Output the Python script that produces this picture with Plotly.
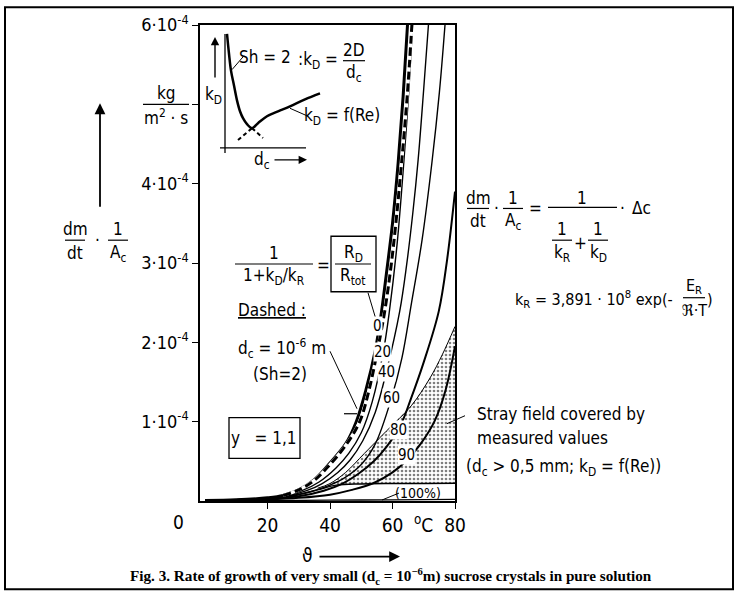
import plotly.graph_objects as go

# ---------------- data (T in °C, rate in 1e-4 kg/(m^2 s)) ----------------
c0_T = [0, 10, 20, 25, 30, 35, 40, 45, 48.4, 51.5, 54.5, 56.5, 58, 60, 61.8, 63.4, 64.8]
c0_v = [0.005, 0.015, 0.04, 0.07, 0.14, 0.27, 0.48, 0.72, 1.0, 1.4, 1.9, 2.39, 2.85, 3.5, 4.26, 5.1, 6.0]

cd_T = [25, 30, 35, 40, 45, 49.5, 52.5, 55.2, 57.5, 59.5, 61.2, 62.9, 64.7, 66.2]
cd_v = [0.07, 0.14, 0.26, 0.46, 0.7, 1.0, 1.4, 1.9, 2.39, 2.95, 3.55, 4.26, 5.1, 6.0]

c20_T = [0, 10, 20, 26, 31, 36.5, 42, 46, 50, 53.5, 57.1, 59.0, 61.5, 63.6, 65.1, 66.4]
c20_v = [0.005, 0.015, 0.04, 0.07, 0.13, 0.24, 0.42, 0.6, 0.86, 1.25, 1.89, 2.39, 3.25, 4.26, 5.1, 6.0]

c40_T = [0, 10, 20, 27, 32.5, 37.5, 42.5, 46.5, 50.5, 54.5, 58.1, 62.3, 64.5, 66.5, 68.2, 70.0, 71.5]
c40_v = [0.005, 0.015, 0.04, 0.07, 0.13, 0.22, 0.36, 0.52, 0.76, 1.12, 1.64, 2.39, 2.97, 3.63, 4.3, 5.2, 6.0]

c60_T = [0, 10, 20, 28, 34, 40, 45, 50, 54.5, 59.7, 63, 66.1, 69.5, 72.6, 75, 76.8]
c60_v = [0.005, 0.015, 0.035, 0.07, 0.12, 0.2, 0.3, 0.46, 0.72, 1.3, 1.8, 2.5, 3.3, 4.26, 5.15, 6.0]

c80_T = [0, 10, 20, 30, 38, 44, 49, 54, 58, 62.3, 66, 70, 74.8, 77.5, 80]
c80_v = [0.005, 0.012, 0.03, 0.06, 0.13, 0.22, 0.34, 0.5, 0.68, 0.93, 1.3, 1.75, 2.39, 3.05, 3.9]

c90_T = [0, 10, 20, 30, 40, 47, 54.2, 60, 64.5, 69, 73.5, 77, 80]
c90_v = [0.005, 0.01, 0.02, 0.04, 0.08, 0.14, 0.23, 0.36, 0.51, 0.72, 1.01, 1.4, 1.95]

c100_T = [0, 20, 40, 60, 80]
c100_v = [0.003, 0.006, 0.01, 0.015, 0.02]

# stray field (measured values) boundaries
su_T = [36, 40, 45, 51, 58, 66, 72, 76, 80]
su_v = [0.16, 0.22, 0.36, 0.6, 0.88, 1.2, 1.55, 1.85, 2.2]
sl_T = [24, 30, 36, 42, 50, 60, 70, 80]
sl_v = [0.04, 0.08, 0.14, 0.2, 0.215, 0.22, 0.222, 0.225]

# inset sketch (arbitrary units): k_D vs d_c
in_d = [7, 9, 11, 14, 17, 20, 23, 27, 32, 38, 47, 58, 70, 85, 100]
in_k = [120, 100, 83, 68, 53, 42, 35, 29, 25, 30, 37, 42, 47, 54, 60]
in_dash1_d = [18, 32]
in_dash1_k = [13, 25]
in_dash2_d = [32, 43]
in_dash2_k = [25, 15]

x_ticks = [20, 40, 60, 80]
x_ticktext = ["20", "40", "60", "80"]
y_ticks = [1, 2, 3, 4, 5, 6]
y_ticktext = ["1·10<sup>-4</sup>", "2·10<sup>-4</sup>", "3·10<sup>-4</sup>",
              "4·10<sup>-4</sup>", "", "6·10<sup>-4</sup>"]

# ---------------- layout helpers ----------------
W, H = 737, 593
L0, R0, T0, B0 = 200, 455, 21, 501
FONT = "DejaVu Sans Condensed, Liberation Sans Narrow, Roboto Condensed, DejaVu Sans, sans-serif"
SERIF = "Liberation Serif, Times New Roman, serif"


def PX(x):
    return (x - L0) / (R0 - L0)


def PY(y):
    return (B0 - y) / (B0 - T0)


ann = []
shp = []


def T(x, y, text, size=16, anchor="center", family=FONT, **kw):
    ann.append(dict(x=PX(x), y=PY(y), xref="paper", yref="paper", text=text,
                    showarrow=False, xanchor=anchor, yanchor="middle",
                    font=dict(family=family, size=size, color="black"), **kw))


def Ln(x0, y0, x1, y1, w=1.3, dash=None):
    d = dict(type="line", xref="paper", yref="paper", x0=PX(x0), y0=PY(y0),
             x1=PX(x1), y1=PY(y1), line=dict(color="black", width=w))
    if dash:
        d["line"]["dash"] = dash
    shp.append(d)


def Box(x0, y0, x1, y1, w=1.3):
    shp.append(dict(type="rect", xref="paper", yref="paper", x0=PX(x0), y0=PY(y0),
                    x1=PX(x1), y1=PY(y1), line=dict(color="black", width=w)))


def Arrow(xh, yh, xt, yt, w=1.8):
    ann.append(dict(x=PX(xh), y=PY(yh), xref="paper", yref="paper", text="",
                    showarrow=True, ax=xt - xh, ay=yt - yh, arrowhead=2,
                    arrowsize=1.2, arrowwidth=w, arrowcolor="black"))


def Frac(xc, yl, num, den, hw, size=16, gap=11):
    T(xc, yl - gap, num, size)
    T(xc, yl + gap + 2, den, size)
    Ln(xc - hw, yl, xc + hw, yl, 1.2)


fig = go.Figure()

# stray field stipple
poly_T = su_T + [80] + [t for t in reversed(sl_T) if t >= 42]
poly_v = su_v + [sl_v[-1]] + [v for t, v in zip(reversed(sl_T), reversed(sl_v)) if t >= 42]
fig.add_trace(go.Scatter(x=poly_T, y=poly_v, mode="lines", fill="toself",
                         fillcolor="white", line=dict(width=0),
                         fillpattern=dict(shape=".", size=4, solidity=0.35,
                                          fgcolor="black", bgcolor="white"),
                         hoverinfo="skip", showlegend=False))
fig.add_trace(go.Scatter(x=su_T, y=su_v, mode="lines", line=dict(color="black", width=1),
                         line_shape="spline", showlegend=False))
fig.add_trace(go.Scatter(x=sl_T, y=sl_v, mode="lines", line=dict(color="black", width=1.5),
                         line_shape="spline", showlegend=False))

curves = [
    (c100_T, c100_v, 1.3),
    (c90_T, c90_v, 2.0),
    (c80_T, c80_v, 2.0),
    (c60_T, c60_v, 1.4),
    (c40_T, c40_v, 1.4),
    (c20_T, c20_v, 1.4),
    (c0_T, c0_v, 3.0),
]
for tx, vy, w in curves:
    fig.add_trace(go.Scatter(x=tx, y=vy, mode="lines", line=dict(color="black", width=w),
                             line_shape="spline", showlegend=False))
# dashed curve: white underlay + black dashes
fig.add_trace(go.Scatter(x=cd_T, y=cd_v, mode="lines", line=dict(color="white", width=3.2),
                         line_shape="spline", showlegend=False))
fig.add_trace(go.Scatter(x=cd_T, y=cd_v, mode="lines",
                         line=dict(color="black", width=3, dash="8px,4px"),
                         line_shape="spline", showlegend=False))

# inset sketch
fig.add_trace(go.Scatter(x=in_d, y=in_k, mode="lines", line=dict(color="black", width=2.5),
                         line_shape="spline", xaxis="x2", yaxis="y2", showlegend=False))
fig.add_trace(go.Scatter(x=in_dash1_d, y=in_dash1_k, mode="lines",
                         line=dict(color="black", width=2, dash="4px,3px"),
                         xaxis="x2", yaxis="y2", showlegend=False))
fig.add_trace(go.Scatter(x=in_dash2_d, y=in_dash2_k, mode="lines",
                         line=dict(color="black", width=2, dash="4px,3px"),
                         xaxis="x2", yaxis="y2", showlegend=False))

# ---------------- annotations ----------------
# outer frame
shp.append(dict(type="rect", xref="paper", yref="paper", x0=PX(5), y0=PY(3), x1=PX(733),
                y1=PY(590), line=dict(color="black", width=2)))

# y axis units and title
Frac(166, 101, "kg", "m<sup>2</sup> · s", 23, size=17)
Frac(75, 238, "dm", "dt", 10, size=17)
T(97, 238, "·", 17)
Frac(118, 238, "1", "A<sub>c</sub>", 10, size=17)
Arrow(100, 100, 100, 205)
T(178, 522, "0", 19)
T(423, 524, "<sup>o</sup>C", 19)
T(307, 555, "ϑ", 19)
Arrow(400, 557, 318, 557)

# inset
Ln(225, 30, 225, 150, 1.3)
Ln(220, 145, 306, 145, 1.3)
Arrow(215, 33, 215, 75, 1.4)
T(213, 92, "k<sub>D</sub>", 17)
T(262, 158, "d<sub>c</sub>", 17)
Arrow(307, 157, 273, 157, 1.4)
T(265, 53, "Sh = 2", 17)
Ln(232, 66, 244, 52, 1)
T(340, 57, ":k<sub>D</sub> =", 17, anchor="right")
Frac(354, 57, "2D", "d<sub>c</sub>", 11, size=17)
T(342, 113, "k<sub>D</sub> = f(Re)", 17)
Ln(290, 105, 308, 113, 1)

# inner plot labels
Frac(274, 262, "1", "1+k<sub>D</sub>/k<sub>R</sub>", 39, size=17)
T(323, 263, "=", 17)
Box(331, 234, 376, 290)
Frac(353, 262, "R<sub>D</sub>", "R<sub>tot</sub>", 18, size=17)
Ln(368, 291, 376, 318, 1)
T(272, 308, "<u>Dashed :</u>", 17)
T(282, 347, "d<sub>c</sub> = 10<sup>-6</sup> m", 17)
T(280, 373, "(Sh=2)", 17)
Ln(330, 350, 357, 408, 1)
Ln(344, 413, 357, 413, 1.2)
Box(229, 417, 300, 458)
T(264, 437, "y   = 1,1", 17)

for lx, ly, lt in [(377, 325, "0"), (382, 351, "20"), (386, 371, "40"), (391, 397, "60"),
                   (398, 429, "80"), (406, 455, "90")]:
    T(lx, ly, lt, 15, bgcolor="white", borderpad=0)
T(418, 493, "(100%)", 14)
Ln(382, 500, 399, 493, 1)

# right side formulas
Frac(478, 206, "dm", "dt", 11, size=17)
T(496, 206, "·", 17)
Frac(513, 206, "1", "A<sub>c</sub>", 10, size=17)
T(535, 206, "=", 17)
T(582, 195, "1", 17)
Ln(548, 205, 617, 205, 1.2)
Frac(562, 238, "1", "k<sub>R</sub>", 10, size=17)
T(580, 241, "+", 17)
Frac(598, 238, "1", "k<sub>D</sub>", 10, size=17)
T(622, 206, "·", 17)
T(641, 206, "Δc", 17)

T(513, 298, "k<sub>R</sub> = 3,891 · 10<sup>8</sup> exp(-", 16, anchor="left")
Frac(694, 296, "E<sub>R</sub>", "ℜ·T", 11, size=16)
T(710, 298, ")", 16)

T(475, 413, "Stray field covered by", 17, anchor="left")
T(475, 437, "measured values", 17, anchor="left")
T(464, 467, "(d<sub>c</sub> > 0,5 mm; k<sub>D</sub> = f(Re))", 17, anchor="left")
Ln(465, 415, 447, 423, 1)

# caption
T(391, 577, "<b>Fig. 3. Rate of growth of very small (d<sub>c</sub> = 10<sup>−6</sup>m) sucrose crystals in pure solution</b>",
  15.2, family=SERIF)

fig.update_layout(
    width=W, height=H,
    margin=dict(l=L0, r=W - R0, t=T0, b=H - B0, pad=0),
    paper_bgcolor="white", plot_bgcolor="white",
    showlegend=False,
    font=dict(family=FONT, color="black", size=17),
    xaxis=dict(range=[-1.6, 80], showline=True, linecolor="black", linewidth=1.5,
               mirror=True, ticks="outside", ticklen=6, tickwidth=1.3, tickcolor="black",
               tickvals=x_ticks, ticktext=x_ticktext, showgrid=False, zeroline=False,
               tickfont=dict(size=19, family=FONT)),
    yaxis=dict(range=[0, 6], showline=True, linecolor="black", linewidth=1.5,
               mirror=True, ticks="outside", ticklen=6, tickwidth=1.3, tickcolor="black",
               tickvals=y_ticks, ticktext=y_ticktext, showgrid=False, zeroline=False,
               tickfont=dict(size=18, family=FONT)),
    xaxis2=dict(domain=[PX(220), PX(330)], range=[0, 110], anchor="y2", visible=False,
                fixedrange=True),
    yaxis2=dict(domain=[PY(150), PY(25)], range=[0, 125], anchor="x2", visible=False,
                fixedrange=True),
    annotations=ann,
    shapes=shp,
)

fig.write_html("out.html")
